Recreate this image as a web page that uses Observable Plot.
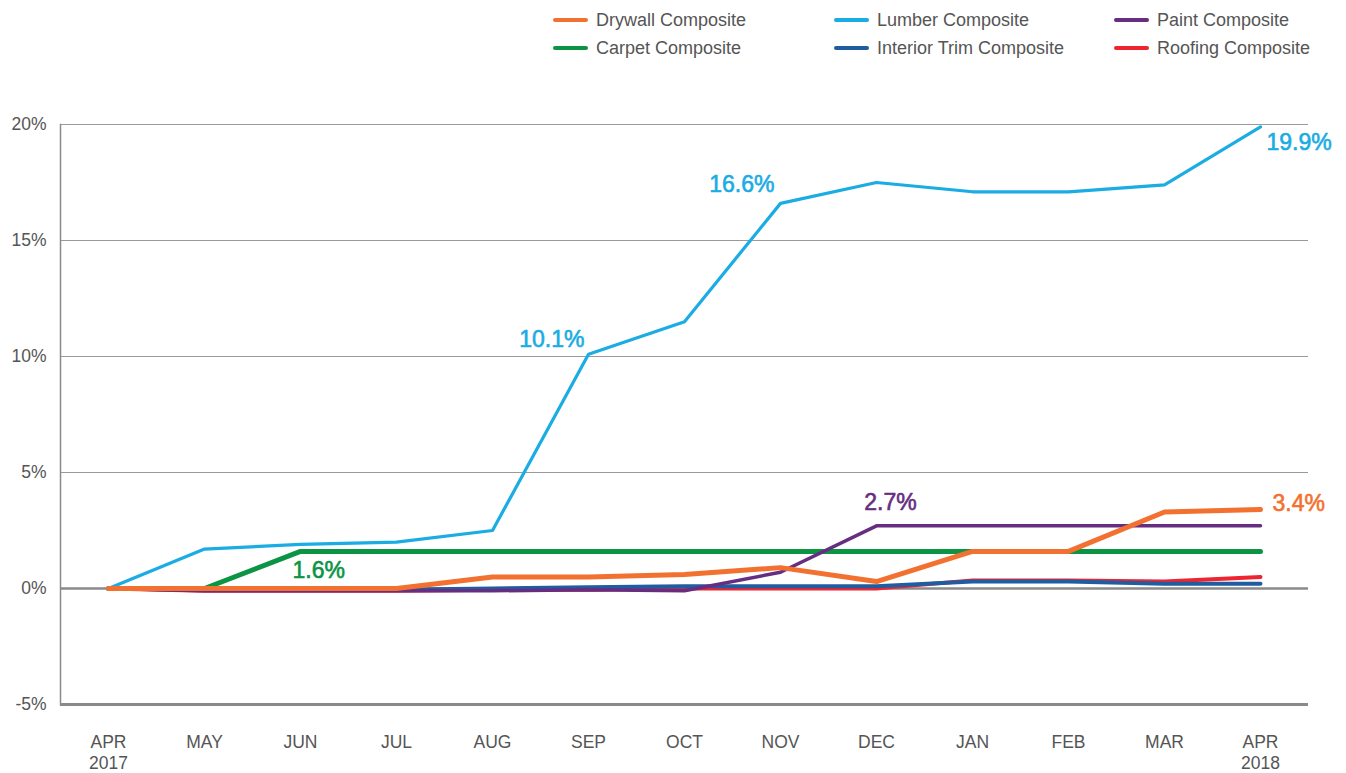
<!DOCTYPE html>
<html>
<head>
<meta charset="utf-8">
<script src="https://cdn.jsdelivr.net/npm/d3@7"></script>
<script src="https://cdn.jsdelivr.net/npm/@observablehq/plot@0.6"></script>
<style>
  html, body { margin: 0; padding: 0; background: #fff; overflow: hidden; }
  #legend { position: relative; height: 70px; width: 1346px; }
  #legend .item { position: absolute; display: flex; align-items: center; font-family: "Liberation Sans Narrow", "Liberation Sans", Arial, sans-serif; font-size: 18px; color: #555; white-space: nowrap; }
  #legend .swatch { width: 35px; height: 4px; border-radius: 2px; margin-right: 8px; }
</style>
</head>
<body>
<div id="legend"></div>
<div id="chart"></div>
<script>
const months = ["APR\n2017","MAY","JUN","JUL","AUG","SEP","OCT","NOV","DEC","JAN","FEB","MAR","APR\n2018"];
const yTicks = [-5, 0, 5, 10, 15, 20];

const drywall = [0, 0, 0, 0, 0.5, 0.5, 0.6, 0.9, 0.3, 1.6, 1.6, 3.3, 3.4];
const lumber  = [0, 1.7, 1.9, 2.0, 2.5, 10.1, 11.5, 16.6, 17.5, 17.1, 17.1, 17.4, 19.9];
const paint   = [0, -0.1, -0.1, -0.1, -0.1, -0.05, -0.1, 0.7, 2.7, 2.7, 2.7, 2.7, 2.7];
const carpet  = [0, 0, 1.6, 1.6, 1.6, 1.6, 1.6, 1.6, 1.6, 1.6, 1.6, 1.6, 1.6];
const trim    = [0, -0.05, -0.05, -0.05, 0, 0.05, 0.1, 0.1, 0.1, 0.3, 0.3, 0.2, 0.2];
const roofing = [0, -0.1, -0.1, -0.1, -0.05, -0.05, 0, 0, 0, 0.35, 0.35, 0.3, 0.5];

const seriesNames  = ["Drywall Composite", "Lumber Composite", "Paint Composite", "Carpet Composite", "Interior Trim Composite", "Roofing Composite"];
const seriesColors = ["#F37130", "#1AACE3", "#662D81", "#0A9444", "#1F5CA0", "#EE2530"];
const seriesValues = [drywall, lumber, paint, carpet, trim, roofing];
const seriesWidths = [5, 3.2, 3.5, 5, 4, 4];
const drawOrder = [1, 3, 5, 4, 2, 0];

// Legend (HTML, above the SVG)
const legendCols = [553, 834, 1114];
const legendRows = [20, 48];
const legend = document.getElementById("legend");
seriesNames.forEach((name, i) => {
  const d = document.createElement("div");
  d.className = "item";
  d.style.left = legendCols[i % 3] + "px";
  d.style.top = (legendRows[Math.floor(i / 3)] - 12) + "px";
  d.style.height = "24px";
  const s = document.createElement("span");
  s.className = "swatch";
  s.style.background = seriesColors[i];
  d.appendChild(s);
  d.appendChild(document.createTextNode(name));
  legend.appendChild(d);
});

const rowsFor = (i) => months.map((m, k) => ({month: m, value: seriesValues[i][k]}));

const lineMarks = drawOrder.map(i => Plot.line(rowsFor(i), {
  x: "month", y: "value", stroke: seriesColors[i], strokeWidth: seriesWidths[i],
  strokeLinecap: "round", strokeLinejoin: "round"
}));

const labelFont = {fontFamily: "Liberation Sans, Arial, sans-serif", fontSize: 23, strokeWidth: 0.6};
const label = (vals, idx, color, opts) => Plot.text([idx], {
  x: k => months[k], y: k => vals[k], text: k => vals[k].toFixed(1) + "%",
  fill: color, stroke: color, ...labelFont, ...opts
});

const chart = Plot.plot({
  width: 1346,
  height: 703,
  marginLeft: 60,
  marginRight: 38,
  marginTop: 54,
  marginBottom: 69,
  style: {fontFamily: "Liberation Sans, Arial, sans-serif", background: "#fff", overflow: "visible"},
  x: {type: "point", domain: months, padding: 0.5},
  y: {domain: [-5, 20]},
  marks: [
    Plot.ruleY([5, 10, 15, 20], {stroke: "#9a9a9a", strokeWidth: 1}),
    Plot.ruleY([0], {stroke: "#8a8a8a", strokeWidth: 2.5}),
    Plot.ruleY([-5], {stroke: "#8a8a8a", strokeWidth: 3}),
    Plot.frame({anchor: "left", stroke: "#8a8a8a", strokeWidth: 1.5}),
    Plot.axisY({ticks: yTicks, tickSize: 0, tickPadding: 14, tickFormat: d => d + "%", fontSize: 17.5, fill: "#555", label: null}),
    Plot.axisX({tickSize: 0, tickPadding: 29, fontSize: 17.5, fill: "#555", lineHeight: 1.2, label: null, fontFamily: "Liberation Sans Narrow, Liberation Sans, Arial, sans-serif"}),
    ...lineMarks,
    label(lumber, 12, seriesColors[1], {textAnchor: "start", dx: 6, dy: 16}),
    label(lumber, 7, seriesColors[1], {textAnchor: "end", dx: -6, dy: -19}),
    label(lumber, 5, seriesColors[1], {textAnchor: "end", dx: -4, dy: -15}),
    label(carpet, 2, seriesColors[3], {textAnchor: "start", dx: -8, dy: 19}),
    label(paint, 8, seriesColors[2], {textAnchor: "middle", dx: 14, dy: -23}),
    label(drywall, 12, seriesColors[0], {textAnchor: "start", dx: 12, dy: -6})
  ]
});
document.getElementById("chart").appendChild(chart);
</script>
</body>
</html>
